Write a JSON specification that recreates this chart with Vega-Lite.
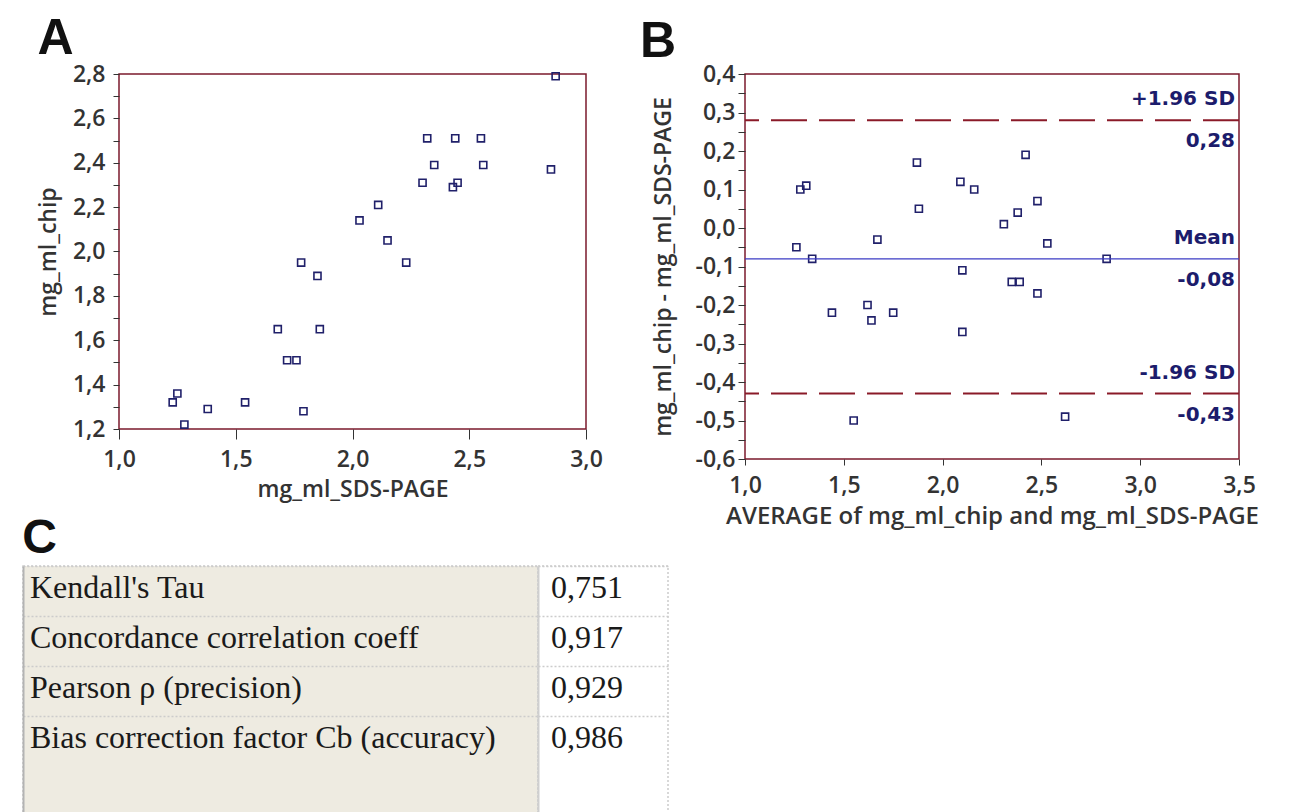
{
  "$schema": "https://vega.github.io/schema/vega-lite/v6.json",
  "background": "white",
  "padding": {"left": 20, "top": 13, "right": 0, "bottom": 0},
  "spacing": -14,
  "config": {
    "locale": {"number": {"decimal": ",", "thousands": ".", "grouping": [3], "currency": ["", ""], "minus": "-"}},
    "font": "Open Sans",
    "axis": {"labelFont": "Open Sans", "titleFont": "Open Sans", "labelFontSize": 23, "titleFontSize": 23, "labelColor": "#333333", "titleColor": "#333333", "labelFontWeight": 600, "titleFontWeight": 600, "domain": false, "tickColor": "#333333", "grid": false, "labelFlush": false, "labelOverlap": false},
    "view": {"stroke": "#7b1a2c", "strokeWidth": 1.5},
    "title": {"font": "Liberation Sans", "fontWeight": "bold", "fontSize": 50, "color": "#111111", "anchor": "start", "frame": "bounds"}
  },
  "vconcat": [
    {
      "spacing": 9,
      "hconcat": [
        {
          "width": 1,
          "height": 1,
          "view": {"stroke": null},
          "data": {"values": [{"k": 0}]},
          "mark": {"type": "point", "opacity": 0},
          "encoding": {}
        },
        {
          "spacing": 35,
          "hconcat": [
            {
              "title": {"text": "A", "offset": -1},
              "width": 467,
              "height": 355,
              "data": {"values": [
                {"sds": 2.87, "chip": 2.79}, {"sds": 2.32, "chip": 2.51}, {"sds": 2.44, "chip": 2.51}, {"sds": 2.55, "chip": 2.51},
                {"sds": 2.35, "chip": 2.39}, {"sds": 2.56, "chip": 2.39}, {"sds": 2.85, "chip": 2.37}, {"sds": 2.30, "chip": 2.31},
                {"sds": 2.43, "chip": 2.29}, {"sds": 2.45, "chip": 2.31}, {"sds": 2.11, "chip": 2.21}, {"sds": 2.03, "chip": 2.14},
                {"sds": 2.15, "chip": 2.05}, {"sds": 2.23, "chip": 1.95}, {"sds": 1.78, "chip": 1.95}, {"sds": 1.85, "chip": 1.89},
                {"sds": 1.68, "chip": 1.65}, {"sds": 1.86, "chip": 1.65}, {"sds": 1.72, "chip": 1.51}, {"sds": 1.76, "chip": 1.51},
                {"sds": 1.23, "chip": 1.32}, {"sds": 1.25, "chip": 1.36}, {"sds": 1.38, "chip": 1.29}, {"sds": 1.54, "chip": 1.32},
                {"sds": 1.79, "chip": 1.28}, {"sds": 1.28, "chip": 1.22}
              ]},
              "mark": {"type": "point", "shape": "square", "filled": false, "size": 50, "strokeWidth": 1.6, "color": "#20206a", "opacity": 1},
              "encoding": {
                "x": {"field": "sds", "type": "quantitative", "scale": {"domain": [1, 3], "nice": false, "zero": false},
                      "axis": {"values": [1, 1.5, 2, 2.5, 3], "format": ".1f", "title": "mg_ml_SDS-PAGE", "tickSize": 10, "labelPadding": 9, "titlePadding": 7, "labelOverlap": false}},
                "y": {"field": "chip", "type": "quantitative", "scale": {"domain": [1.2, 2.8], "nice": false, "zero": false},
                      "axis": {"values": [1.2, 1.3, 1.4, 1.5, 1.6, 1.7, 1.8, 1.9, 2.0, 2.1, 2.2, 2.3, 2.4, 2.5, 2.6, 2.7, 2.8], "format": ".1f", "labelOverlap": false,
                               "labelExpr": "round(datum.value*10) % 2 == 0 ? datum.label : ''",
                               "title": "mg_ml_chip", "tickSize": 6, "labelPadding": 8, "titlePadding": 12}}
              }
            },
            {
              "title": {"text": "B", "dx": -12, "offset": -4},
              "width": 494,
              "height": 385,
              "encoding": {
                "x": {"field": "avg", "type": "quantitative", "scale": {"domain": [1, 3.5], "nice": false, "zero": false},
                      "axis": {"values": [1, 1.5, 2, 2.5, 3, 3.5], "format": ".1f", "title": "AVERAGE of mg_ml_chip and mg_ml_SDS-PAGE", "tickSize": 6, "labelPadding": 9, "titlePadding": 7, "labelOverlap": false, "titleFontSize": 24}},
                "y": {"field": "diff", "type": "quantitative", "scale": {"domain": [-0.6, 0.4], "nice": false, "zero": false},
                      "axis": {"values": [-0.6, -0.55, -0.5, -0.45, -0.4, -0.35, -0.3, -0.25, -0.2, -0.15, -0.1, -0.05, 0, 0.05, 0.1, 0.15, 0.2, 0.25, 0.3, 0.35, 0.4],
                               "format": ".1f", "labelOverlap": false,
                               "labelExpr": "abs(round(datum.value*100)) % 10 == 0 ? datum.label : ''",
                               "title": "mg_ml_chip - mg_ml_SDS-PAGE", "tickSize": 7, "labelPadding": 3, "titlePadding": 20}}
              },
              "layer": [
                {
                  "data": {"values": [
                    {"avg": 1.26, "diff": -0.05}, {"avg": 1.28, "diff": 0.10}, {"avg": 1.31, "diff": 0.11}, {"avg": 1.34, "diff": -0.08},
                    {"avg": 1.44, "diff": -0.22}, {"avg": 1.55, "diff": -0.50}, {"avg": 1.62, "diff": -0.20}, {"avg": 1.64, "diff": -0.24},
                    {"avg": 1.67, "diff": -0.03}, {"avg": 1.75, "diff": -0.22}, {"avg": 1.87, "diff": 0.17}, {"avg": 1.88, "diff": 0.05},
                    {"avg": 2.09, "diff": 0.12}, {"avg": 2.10, "diff": -0.11}, {"avg": 2.10, "diff": -0.27}, {"avg": 2.16, "diff": 0.10},
                    {"avg": 2.31, "diff": 0.01}, {"avg": 2.35, "diff": -0.14}, {"avg": 2.39, "diff": -0.14}, {"avg": 2.38, "diff": 0.04},
                    {"avg": 2.42, "diff": 0.19}, {"avg": 2.48, "diff": 0.07}, {"avg": 2.48, "diff": -0.17}, {"avg": 2.53, "diff": -0.04},
                    {"avg": 2.62, "diff": -0.49}, {"avg": 2.83, "diff": -0.08}
                  ]},
                  "mark": {"type": "point", "shape": "square", "filled": false, "size": 50, "strokeWidth": 1.6, "color": "#20206a", "opacity": 1}
                },
                {
                  "data": {"values": [{"name": "+1.96 SD", "diff": 0.28}, {"name": "-1.96 SD", "diff": -0.43}]},
                  "mark": {"type": "rule", "color": "#8a1a28", "strokeWidth": 2, "strokeDash": [36, 12]},
                  "encoding": {"x": null}
                },
                {
                  "data": {"values": [{"name": "Mean", "diff": -0.08}]},
                  "mark": {"type": "rule", "color": "#3b3bc4", "strokeWidth": 1.2},
                  "encoding": {"x": null}
                },
                {
                  "data": {"values": [{"name": "+1.96 SD", "diff": 0.28, "avg": 3.5}, {"name": "Mean", "diff": -0.08, "avg": 3.5}, {"name": "-1.96 SD", "diff": -0.43, "avg": 3.5}]},
                  "layer": [
                    {
                      "mark": {"type": "text", "align": "right", "baseline": "middle", "dx": -4, "dy": -21, "font": "DejaVu Sans", "fontWeight": "bold", "fontSize": 20, "color": "#1c1c6c"},
                      "encoding": {"text": {"field": "name"}}
                    },
                    {
                      "mark": {"type": "text", "align": "right", "baseline": "middle", "dx": -4, "dy": 21, "font": "DejaVu Sans", "fontWeight": "bold", "fontSize": 20, "color": "#1c1c6c"},
                      "encoding": {"text": {"field": "diff", "format": ".2f"}}
                    }
                  ]
                }
              ]
            }
          ]
        }
      ]
    },
    {
      "title": {"text": "C", "offset": 2, "fontSize": 48},
      "spacing": 0,
      "bounds": "flush",
      "data": {"values": [
        {"metric": "Kendall's Tau", "value": 0.751},
        {"metric": "Concordance correlation coeff", "value": 0.917},
        {"metric": "Pearson ρ (precision)", "value": 0.929},
        {"metric": "Bias correction factor Cb (accuracy)", "value": 0.986}
      ]},
      "hconcat": [
        {
          "width": 515,
          "height": 250,
          "view": {"fill": "#eeebe1", "stroke": "#cccccc", "strokeDash": [2, 2], "strokeWidth": 1.5},
          "mark": {"type": "text", "align": "left", "baseline": "middle", "dx": 7, "dy": -3, "font": "Liberation Serif", "fontSize": 32, "color": "#1a1a1a"},
          "encoding": {
            "y": {"field": "metric", "type": "nominal", "sort": null, "bandPosition": 0.5,
                  "scale": {"type": "band", "domain": ["Kendall's Tau", "Concordance correlation coeff", "Pearson ρ (precision)", "Bias correction factor Cb (accuracy)", " "], "paddingInner": 0, "paddingOuter": 0},
                  "axis": {"title": null, "labels": false, "ticks": false, "domain": true, "domainColor": "#b3b3b3", "domainWidth": 2, "grid": true, "gridColor": "#cccccc", "gridDash": [2, 2], "gridWidth": 1.5, "bandPosition": 0,
                           "values": ["Kendall's Tau", "Concordance correlation coeff", "Pearson ρ (precision)", "Bias correction factor Cb (accuracy)"]}},
            "x": {"datum": 0, "type": "quantitative", "scale": {"domain": [0, 1]}, "axis": null},
            "text": {"field": "metric"}
          }
        },
        {
          "width": 130,
          "height": 250,
          "view": {"fill": "white", "stroke": "#cccccc", "strokeDash": [2, 2], "strokeWidth": 1.5},
          "mark": {"type": "text", "align": "left", "baseline": "middle", "dx": 13, "dy": -3, "font": "Liberation Serif", "fontSize": 32, "color": "#1a1a1a"},
          "encoding": {
            "y": {"field": "metric", "type": "nominal", "sort": null, "bandPosition": 0.5,
                  "scale": {"type": "band", "domain": ["Kendall's Tau", "Concordance correlation coeff", "Pearson ρ (precision)", "Bias correction factor Cb (accuracy)", " "], "paddingInner": 0, "paddingOuter": 0},
                  "axis": {"title": null, "labels": false, "ticks": false, "domain": true, "domainColor": "#cfcfcf", "domainWidth": 2, "grid": true, "gridColor": "#cccccc", "gridDash": [2, 2], "gridWidth": 1.5, "bandPosition": 0,
                           "values": ["Kendall's Tau", "Concordance correlation coeff", "Pearson ρ (precision)", "Bias correction factor Cb (accuracy)"]}},
            "x": {"datum": 0, "type": "quantitative", "scale": {"domain": [0, 1]}, "axis": null},
            "text": {"field": "value", "format": ".3f"}
          }
        }
      ]
    }
  ]
}
